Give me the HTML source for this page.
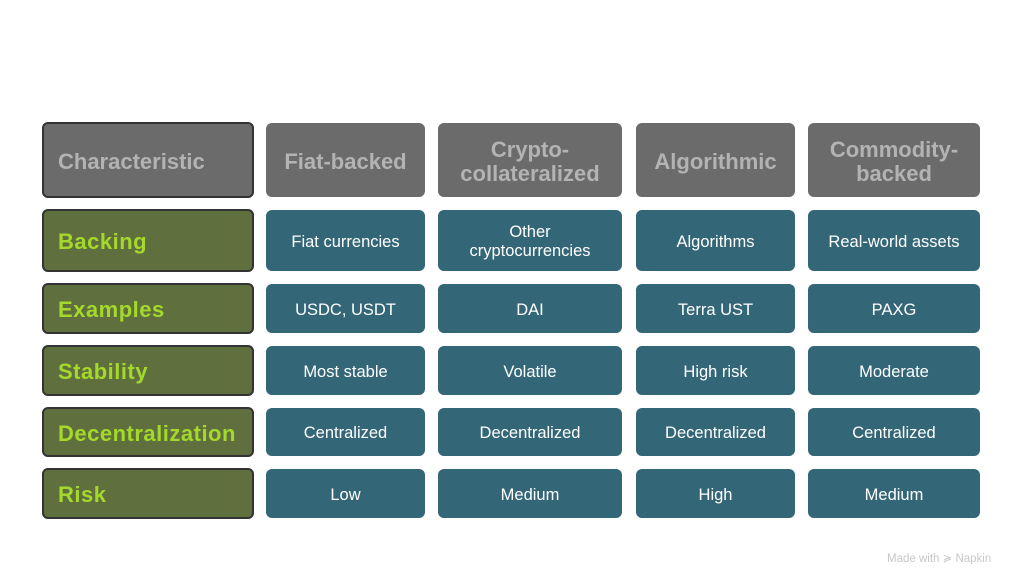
<!DOCTYPE html>
<html><head><style>
body{margin:0;width:1024px;height:586px;background:#fff;position:relative;overflow:hidden;font-family:"Liberation Sans",sans-serif}
.b{position:absolute;box-sizing:border-box;border-radius:6px;display:flex;align-items:center;justify-content:center;text-align:center;padding-top:3px}
.h{background:#6b6b6b;color:#b3b3b3;font-weight:bold;font-size:22px;line-height:24px}
.g{background:#5f6f3e;color:#a4d92c;font-weight:bold;font-size:22px;border:2px solid #333;justify-content:flex-start;padding-left:14px;letter-spacing:0.5px}
.c{background:#336677;color:#fff;font-size:16.5px;line-height:19px}
.hc{border:2px solid #333;justify-content:flex-start;padding-left:14px}
</style></head><body>
<div class="b h hc" style="left:42px;top:122px;width:212px;height:76px">Characteristic</div>
<div class="b h" style="left:266px;top:123px;width:159px;height:74px">Fiat-backed</div>
<div class="b h" style="left:438px;top:123px;width:184px;height:74px">Crypto-<br>collateralized</div>
<div class="b h" style="left:636px;top:123px;width:159px;height:74px">Algorithmic</div>
<div class="b h" style="left:808px;top:123px;width:172px;height:74px">Commodity-<br>backed</div>

<div class="b g" style="left:42px;top:209px;width:212px;height:63px">Backing</div>
<div class="b c" style="left:266px;top:210px;width:159px;height:61px">Fiat currencies</div>
<div class="b c" style="left:438px;top:210px;width:184px;height:61px">Other<br>cryptocurrencies</div>
<div class="b c" style="left:636px;top:210px;width:159px;height:61px">Algorithms</div>
<div class="b c" style="left:808px;top:210px;width:172px;height:61px">Real-world assets</div>

<div class="b g" style="left:42px;top:283px;width:212px;height:51px">Examples</div>
<div class="b c" style="left:266px;top:284px;width:159px;height:49px">USDC, USDT</div>
<div class="b c" style="left:438px;top:284px;width:184px;height:49px">DAI</div>
<div class="b c" style="left:636px;top:284px;width:159px;height:49px">Terra UST</div>
<div class="b c" style="left:808px;top:284px;width:172px;height:49px">PAXG</div>

<div class="b g" style="left:42px;top:345px;width:212px;height:51px">Stability</div>
<div class="b c" style="left:266px;top:346px;width:159px;height:49px">Most stable</div>
<div class="b c" style="left:438px;top:346px;width:184px;height:49px">Volatile</div>
<div class="b c" style="left:636px;top:346px;width:159px;height:49px">High risk</div>
<div class="b c" style="left:808px;top:346px;width:172px;height:49px">Moderate</div>

<div class="b g" style="left:42px;top:407px;width:212px;height:50px">Decentralization</div>
<div class="b c" style="left:266px;top:408px;width:159px;height:48px">Centralized</div>
<div class="b c" style="left:438px;top:408px;width:184px;height:48px">Decentralized</div>
<div class="b c" style="left:636px;top:408px;width:159px;height:48px">Decentralized</div>
<div class="b c" style="left:808px;top:408px;width:172px;height:48px">Centralized</div>

<div class="b g" style="left:42px;top:468px;width:212px;height:51px">Risk</div>
<div class="b c" style="left:266px;top:469px;width:159px;height:49px">Low</div>
<div class="b c" style="left:438px;top:469px;width:184px;height:49px">Medium</div>
<div class="b c" style="left:636px;top:469px;width:159px;height:49px">High</div>
<div class="b c" style="left:808px;top:469px;width:172px;height:49px">Medium</div>

<div style="position:absolute;left:887px;top:551px;font-size:11.5px;color:#c8c8c8">Made with ≽ Napkin</div>
</body></html>
